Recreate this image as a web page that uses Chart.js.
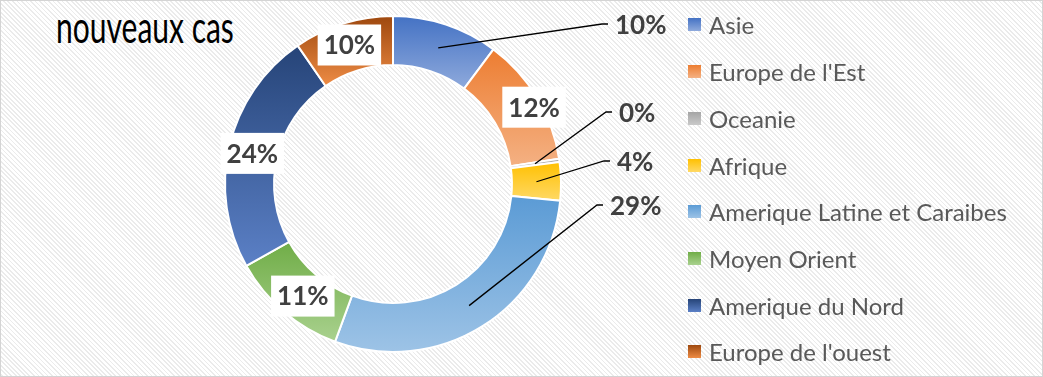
<!DOCTYPE html>
<html lang="fr">
<head>
<meta charset="utf-8">
<title>nouveaux cas</title>
<script src="https://cdn.jsdelivr.net/npm/chart.js@4.4.1/dist/chart.umd.min.js"></script>
<style>
  html, body { margin: 0; padding: 0; }
  body {
    width: 1043px; height: 377px; overflow: hidden; position: relative;
    background: repeating-linear-gradient(45deg, #ffffff 0px, #ffffff 2px, #ebebeb 2px, #ebebeb 3.2px);
  }
  #borda {
    position: absolute; left: 0; top: 0; width: 1041px; height: 375px;
    border: 1px solid #d4d4d4;
  }
  #grafico { position: absolute; left: 0; top: 0; }
  #titulo {
    position: absolute; left: 56px; top: 2px;
    font-family: Lato, sans-serif; font-size: 30px; line-height: 30px;
    color: #000; white-space: nowrap;
    transform: scaleY(1.5); transform-origin: left top;
  }
  #legenda {
    position: absolute; left: 688px; top: 1.6px;
    font-family: Lato, sans-serif; font-size: 24px; color: #595959;
  }
  .item { height: 46.7px; display: flex; align-items: center; white-space: nowrap; }
  .caixa { width: 13px; height: 13px; margin-right: 8px; flex: none; }
</style>
</head>
<body>
<div id="titulo">nouveaux cas</div>
<canvas id="grafico" width="1043" height="377"></canvas>
<div id="legenda"></div>
<div id="borda"></div>

<script>
// dados do grafico
const regioes = ['Asie', "Europe de l'Est", 'Oceanie', 'Afrique', 'Amerique Latine et Caraibes', 'Moyen Orient', 'Amerique du Nord', "Europe de l'ouest"];
const valores = [10.2, 12.4, 0.3, 3.7, 29.0, 11.3, 23.5, 9.6];

// cores: topo e base do degrade de cada fatia
const coresTopo = ['#4472C4', '#ED7D31', '#A5A5A5', '#FFC000', '#5B9BD5', '#70AD47', '#264478', '#9E480E'];
const coresBase = ['#8FAADC', '#F4B183', '#C9C9C9', '#FFD966', '#9DC3E6', '#A9D18E', '#5B80C6', '#EE8C45'];

// onde cada rotulo fica: fora (com linha) relativo ao centro do grafico, dentro relativo ao centro da fatia
const posicaoRotulos = [
  { fora: true, dx: 222, dy: -159 },
  { fora: false, dx: 18, dy: -3 },
  { fora: true, dx: 226, dy: -71 },
  { fora: true, dx: 224, dy: -22 },
  { fora: true, dx: 217, dy: 22 },
  { fora: false, dx: 3, dy: 3 },
  { fora: false, dx: -1, dy: 2 },
  { fora: false, dx: -1, dy: -2 }
];

const total = valores.reduce((a, b) => a + b, 0);

function gradienteFatia(context) {
  const chart = context.chart;
  const i = context.dataIndex;
  const area = chart.chartArea;
  if (!area || context.type !== 'data') return coresTopo[i];
  const ctrl = chart.getDatasetMeta(0).controller;
  const ro = ctrl.outerRadius, ri = ctrl.innerRadius;
  if (!ro) return coresTopo[i];
  const cy = (area.top + area.bottom) / 2;

  let soma = 0;
  for (let k = 0; k < i; k++) soma += valores[k];
  const a0 = -Math.PI / 2 + soma / total * Math.PI * 2;
  const a1 = a0 + valores[i] / total * Math.PI * 2;

  const ys = [];
  [ri, ro].forEach(r => {
    ys.push(cy + r * Math.sin(a0));
    ys.push(cy + r * Math.sin(a1));
  });
  if (a0 <= Math.PI / 2 && a1 >= Math.PI / 2) ys.push(cy + ro);
  if (a1 >= Math.PI * 1.5) ys.push(cy - ro);

  const y0 = Math.min(...ys), y1 = Math.max(...ys);
  const g = chart.ctx.createLinearGradient(0, y0, 0, y1 + 0.01);
  g.addColorStop(0, coresTopo[i]);
  g.addColorStop(1, coresBase[i]);
  return g;
}

const rotulosPlugin = {
  id: 'rotulos',
  afterDatasetsDraw(chart) {
    const ctx = chart.ctx;
    const meta = chart.getDatasetMeta(0);
    const cx = (chart.chartArea.left + chart.chartArea.right) / 2;
    const cy = (chart.chartArea.top + chart.chartArea.bottom) / 2;
    ctx.save();
    ctx.font = 'bold 26px Lato';
    ctx.textBaseline = 'middle';
    meta.data.forEach((arco, i) => {
      const texto = Math.round(valores[i] / total * 100) + '%';
      const pos = posicaoRotulos[i];
      const centro = arco.getCenterPoint();
      if (pos.fora) {
        const tx = cx + pos.dx, ty = cy + pos.dy;
        ctx.strokeStyle = '#000';
        ctx.lineWidth = 1.3;
        ctx.beginPath();
        ctx.moveTo(centro.x, centro.y);
        ctx.lineTo(tx - 13, ty - 1);
        ctx.lineTo(tx - 7, ty - 1);
        ctx.stroke();
        ctx.fillStyle = '#404040';
        ctx.textAlign = 'left';
        ctx.fillText(texto, tx, ty + 1);
      } else {
        const x = centro.x + pos.dx, y = centro.y + pos.dy;
        const w = ctx.measureText(texto).width + 12;
        ctx.fillStyle = '#ffffff';
        ctx.fillRect(x - w / 2, y - 20.5, w, 41);
        ctx.fillStyle = '#404040';
        ctx.textAlign = 'center';
        ctx.fillText(texto, x, y + 1);
      }
    });
    ctx.restore();
  }
};

function montarLegenda() {
  const legenda = document.getElementById('legenda');
  regioes.forEach((nome, i) => {
    legenda.innerHTML += `
      <div class="item">
        <span class="caixa" style="background: linear-gradient(${coresTopo[i]}, ${coresBase[i]})"></span>
        <span>${nome}</span>
      </div>`;
  });
}

function desenharGrafico() {
  const ctxGrafico = document.getElementById('grafico');
  new Chart(ctxGrafico, {
    type: 'doughnut',
    data: {
      labels: regioes,
      datasets: [{
        data: valores,
        backgroundColor: gradienteFatia,
        borderColor: '#ffffff',
        borderWidth: 2
      }]
    },
    options: {
      responsive: false,
      animation: false,
      devicePixelRatio: 1,
      cutout: '70.8%',
      layout: {
        padding: { left: 224, right: 481, top: 15, bottom: 24 }
      },
      plugins: {
        legend: { display: false },
        tooltip: { enabled: false }
      }
    },
    plugins: [rotulosPlugin]
  });
}

window.onload = () => {
  montarLegenda();
  document.fonts.load('bold 26px Lato').then(desenharGrafico, desenharGrafico);
}
</script>
</body>
</html>
